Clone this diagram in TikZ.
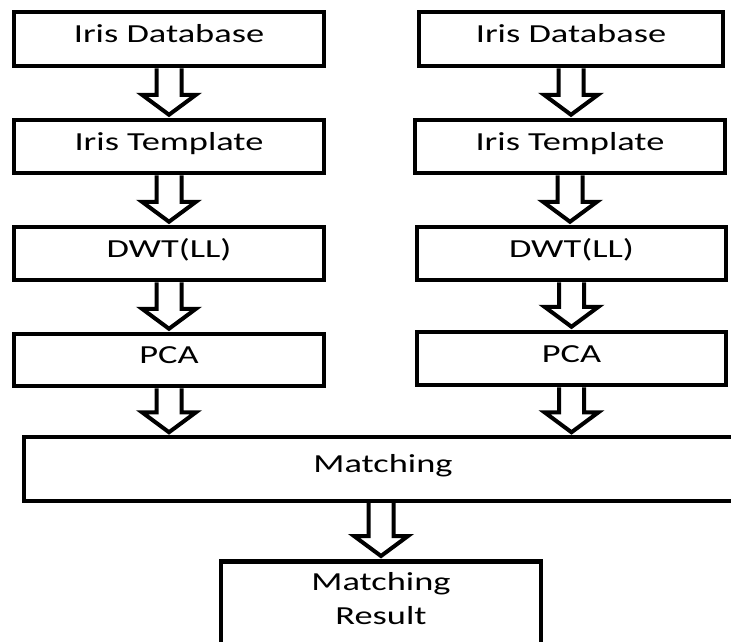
\documentclass[tikz,border=0pt]{standalone}
\usepackage{fontspec}
\setmainfont{Carlito}[FakeStretch=1.4]
\usetikzlibrary{calc}

% hollow block arrow: x taken from #1, from the bottom of #2 to the top of #3
\newcommand\flowarrow[3]{%
  \draw[arrowline] let \p0=(#1), \p1=(#2.south), \p2=(#3.north) in
    (\x0-12.5pt,\y1) -- (\x0-12.5pt,\y2+23pt) -- (\x0-27pt,\y2+23pt)
    -- (\x0,\y2+3pt) -- (\x0+27pt,\y2+23pt) -- (\x0+12.5pt,\y2+23pt)
    -- (\x0+12.5pt,\y1);
}

\begin{document}
\begin{tikzpicture}[x=1pt,y=-1pt,
  txt/.style={font=\fontsize{26}{34}\selectfont},
  stage/.style={txt, draw, line width=4.5pt, inner sep=0pt,
    text height=16.5pt, text depth=9pt},
  arrowline/.style={line width=4pt, line join=miter, miter limit=10}]
\clip (0,0) rectangle (731,641);
\fill[white] (0,0) rectangle (731,641);

% left branch
\node[stage, minimum width=310pt, minimum height=54pt] (l1) at (169,39) {Iris Database};
\node[stage, minimum width=310pt, minimum height=53pt] (l2) at (169,146.5) {Iris Template};
\node[stage, minimum width=310pt, minimum height=53pt] (l3) at (169,253.5) {DWT(LL)};
\node[stage, minimum width=310pt, minimum height=52pt] (l4) at (169,360) {PCA};

% right branch
\node[stage, minimum width=304pt, minimum height=54pt] (r1) at (571,39) {Iris Database};
\node[stage, minimum width=310pt, minimum height=53pt] (r2) at (570,146.5) {Iris Template};
\node[stage, minimum width=309pt, minimum height=53pt] (r3) at (571.5,253.5) {DWT(LL)};
\node[stage, minimum width=309pt, minimum height=53pt] (r4) at (571.5,358.5) {PCA};

% matching stage (runs off the right edge)
\node[stage, line width=3.5pt, minimum width=718pt, minimum height=64pt] (match) at (383,469) {Matching};

% result box (runs off the bottom edge)
\node[draw, line width=4.5pt, inner sep=0pt, minimum width=320pt, minimum height=100pt,
  anchor=north] (result) at (381,559) {};
\node[txt, align=center, inner sep=0pt, anchor=north] (resulttext) at (381,572) {Matching\\Result};

% arrows
\flowarrow{l1}{l1}{l2}
\flowarrow{l2}{l2}{l3}
\flowarrow{l3}{l3}{l4}
\flowarrow{l4}{l4}{match}
\flowarrow{r1}{r1}{r2}
\flowarrow{r2}{r2}{r3}
\flowarrow{r3}{r3}{r4}
\flowarrow{r4}{r4}{match}
\flowarrow{result}{match}{result}
\end{tikzpicture}
\end{document}
